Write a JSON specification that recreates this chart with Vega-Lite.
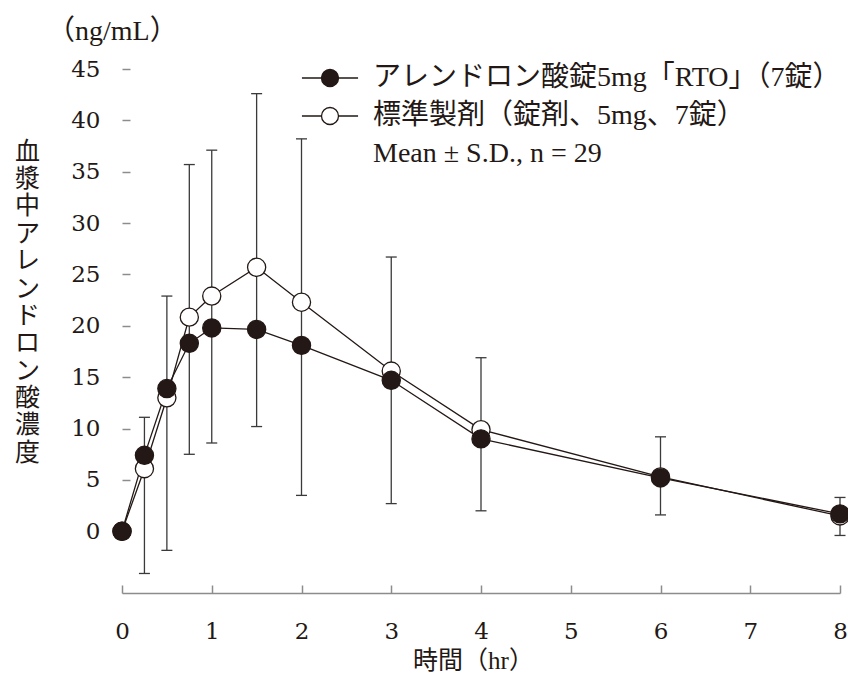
{
  "$schema": "https://vega.github.io/schema/vega-lite/v6.json",
  "width": 718,
  "height": 524,
  "autosize": "none",
  "padding": {"left": 122, "top": 69, "right": 8, "bottom": 82},
  "background": "white",
  "config": {
    "view": {"stroke": null},
    "font": "Liberation Serif, Noto Sans CJK JP"
  },
  "title": {
    "text": "（ng/mL）",
    "anchor": "start",
    "frame": "group",
    "font": "Liberation Serif, Noto Sans CJK JP",
    "fontSize": 28,
    "fontWeight": "normal",
    "color": "#231815",
    "dx": -75,
    "offset": 12
  },
  "datasets": {
    "means": [
      {"time": 0, "conc": 0, "series": "標準製剤（錠剤、5mg、7錠）"},
      {"time": 0.25, "conc": 6.1, "series": "標準製剤（錠剤、5mg、7錠）"},
      {"time": 0.5, "conc": 13.0, "series": "標準製剤（錠剤、5mg、7錠）"},
      {"time": 0.75, "conc": 20.85, "series": "標準製剤（錠剤、5mg、7錠）"},
      {"time": 1, "conc": 22.9, "series": "標準製剤（錠剤、5mg、7錠）"},
      {"time": 1.5, "conc": 25.7, "series": "標準製剤（錠剤、5mg、7錠）"},
      {"time": 2, "conc": 22.3, "series": "標準製剤（錠剤、5mg、7錠）"},
      {"time": 3, "conc": 15.6, "series": "標準製剤（錠剤、5mg、7錠）"},
      {"time": 4, "conc": 9.9, "series": "標準製剤（錠剤、5mg、7錠）"},
      {"time": 6, "conc": 5.3, "series": "標準製剤（錠剤、5mg、7錠）"},
      {"time": 8, "conc": 1.5, "series": "標準製剤（錠剤、5mg、7錠）"},
      {"time": 0, "conc": 0, "series": "アレンドロン酸錠5mg「RTO」（7錠）"},
      {"time": 0.25, "conc": 7.4, "series": "アレンドロン酸錠5mg「RTO」（7錠）"},
      {"time": 0.5, "conc": 13.9, "series": "アレンドロン酸錠5mg「RTO」（7錠）"},
      {"time": 0.75, "conc": 18.3, "series": "アレンドロン酸錠5mg「RTO」（7錠）"},
      {"time": 1, "conc": 19.8, "series": "アレンドロン酸錠5mg「RTO」（7錠）"},
      {"time": 1.5, "conc": 19.65, "series": "アレンドロン酸錠5mg「RTO」（7錠）"},
      {"time": 2, "conc": 18.1, "series": "アレンドロン酸錠5mg「RTO」（7錠）"},
      {"time": 3, "conc": 14.7, "series": "アレンドロン酸錠5mg「RTO」（7錠）"},
      {"time": 4, "conc": 9.0, "series": "アレンドロン酸錠5mg「RTO」（7錠）"},
      {"time": 6, "conc": 5.2, "series": "アレンドロン酸錠5mg「RTO」（7錠）"},
      {"time": 8, "conc": 1.7, "series": "アレンドロン酸錠5mg「RTO」（7錠）"}
    ],
    "errors": [
      {"time": 0.25, "lo": -4.1, "hi": 11.1},
      {"time": 0.5, "lo": -1.85, "hi": 22.9},
      {"time": 0.75, "lo": 7.5, "hi": 35.7},
      {"time": 1, "lo": 8.6, "hi": 37.1},
      {"time": 1.5, "lo": 10.2, "hi": 42.6},
      {"time": 2, "lo": 3.5, "hi": 38.2},
      {"time": 3, "lo": 2.7, "hi": 26.7},
      {"time": 4, "lo": 2.0, "hi": 16.9},
      {"time": 6, "lo": 1.6, "hi": 9.2},
      {"time": 8, "lo": -0.4, "hi": 3.3}
    ]
  },
  "layer": [
    {
      "mark": {"type": "rule", "color": "#8c8c8c", "strokeWidth": 1.5},
      "encoding": {
        "x": {"datum": 0, "type": "quantitative"},
        "y": {"datum": 0, "type": "quantitative"},
        "y2": {"datum": 45}
      }
    },
    {
      "data": {"name": "errors"},
      "mark": {"type": "rule", "color": "#3a3a3a", "strokeWidth": 1.3},
      "encoding": {
        "x": {"field": "time", "type": "quantitative"},
        "y": {"field": "lo", "type": "quantitative"},
        "y2": {"field": "hi"}
      }
    },
    {
      "data": {"name": "errors"},
      "mark": {"type": "tick", "orient": "horizontal", "color": "#3a3a3a", "thickness": 1.3, "size": 11, "opacity": 1},
      "encoding": {
        "x": {"field": "time", "type": "quantitative"},
        "y": {"field": "hi", "type": "quantitative"}
      }
    },
    {
      "data": {"name": "errors"},
      "mark": {"type": "tick", "orient": "horizontal", "color": "#3a3a3a", "thickness": 1.3, "size": 11, "opacity": 1},
      "encoding": {
        "x": {"field": "time", "type": "quantitative"},
        "y": {"field": "lo", "type": "quantitative"}
      }
    },
    {
      "data": {"name": "means"},
      "mark": {"type": "line", "color": "#231815", "strokeWidth": 1.3},
      "encoding": {
        "x": {
          "field": "time",
          "type": "quantitative",
          "scale": {"domain": [0, 8], "nice": false, "zero": false},
          "axis": {
            "values": [0, 1, 2, 3, 4, 5, 6, 7, 8],
            "format": "d",
            "title": "時間（hr）",
            "grid": false,
            "domainColor": "#8c8c8c",
            "domainWidth": 1.5,
            "tickColor": "#8c8c8c",
            "tickWidth": 1.5,
            "tickSize": -8,
            "labelFont": "DejaVu Serif, Noto Sans CJK JP",
            "labelFontSize": 23,
            "labelColor": "#231815",
            "labelPadding": 35,
            "labelFlush": false,
            "titleFont": "Liberation Serif, Noto Sans CJK JP",
            "titleFontSize": 25,
            "titleFontWeight": "normal",
            "titleColor": "#231815",
            "titleX": 351,
            "titleY": 67,
            "titleAlign": "center",
            "titleBaseline": "middle"
          }
        },
        "y": {
          "field": "conc",
          "type": "quantitative",
          "scale": {"domain": [-6, 45], "nice": false, "zero": false},
          "axis": {
            "values": [0, 5, 10, 15, 20, 25, 30, 35, 40, 45],
            "title": ["血", "漿", "中", "ア", "レ", "ン", "ド", "ロ", "ン", "酸", "濃", "度"],
            "grid": false,
            "domain": false,
            "tickColor": "#8c8c8c",
            "tickWidth": 1.5,
            "tickSize": -8,
            "labelFont": "DejaVu Serif, Noto Sans CJK JP",
            "labelFontSize": 23,
            "labelColor": "#231815",
            "labelPadding": 30,
            "titleFont": "Noto Sans CJK JP",
            "titleFontSize": 25,
            "titleFontWeight": "normal",
            "titleColor": "#231815",
            "titleAngle": 0,
            "titleLineHeight": 27.4,
            "titleX": -95,
            "titleY": 70,
            "titleAlign": "center",
            "titleBaseline": "top"
          }
        },
        "detail": {"field": "series"}
      }
    },
    {
      "data": {"name": "means"},
      "mark": {"type": "point", "shape": "circle", "filled": true, "stroke": "#231815", "strokeWidth": 1.3, "size": 330, "opacity": 1},
      "encoding": {
        "x": {"field": "time", "type": "quantitative"},
        "y": {"field": "conc", "type": "quantitative"},
        "fill": {
          "field": "series",
          "type": "nominal",
          "scale": {
            "domain": ["アレンドロン酸錠5mg「RTO」（7錠）", "標準製剤（錠剤、5mg、7錠）", "Mean ± S.D., n = 29"],
            "range": ["#231815", "#ffffff", "transparent"]
          },
          "legend": {
            "title": null,
            "orient": "none",
            "legendX": 194,
            "legendY": -5,
            "symbolSize": 289,
            "symbolStrokeWidth": 1.3,
            "labelFont": "Liberation Serif, Noto Sans CJK JP",
            "labelFontSize": 28,
            "labelColor": "#231815",
            "labelOffset": 29,
            "labelLimit": 700,
            "rowPadding": 10,
            "encoding": {
              "symbols": {
                "shape": {"value": "M-3.3,0L-1,0M1,0L3.3,0M1,0A1,1,0,1,1,-1,0A1,1,0,1,1,1,0Z"},
                "stroke": {
                  "condition": {"test": "datum.value === 'Mean ± S.D., n = 29'", "value": "transparent"},
                  "value": "#231815"
                },
                "fill": {
                  "condition": [
                    {"test": "datum.value === 'Mean ± S.D., n = 29'", "value": "transparent"},
                    {"test": "datum.value === '標準製剤（錠剤、5mg、7錠）'", "value": "#ffffff"}
                  ],
                  "value": "#231815"
                },
                "strokeWidth": {"value": 1.3},
                "opacity": {"value": 1}
              }
            }
          }
        }
      }
    }
  ]
}
